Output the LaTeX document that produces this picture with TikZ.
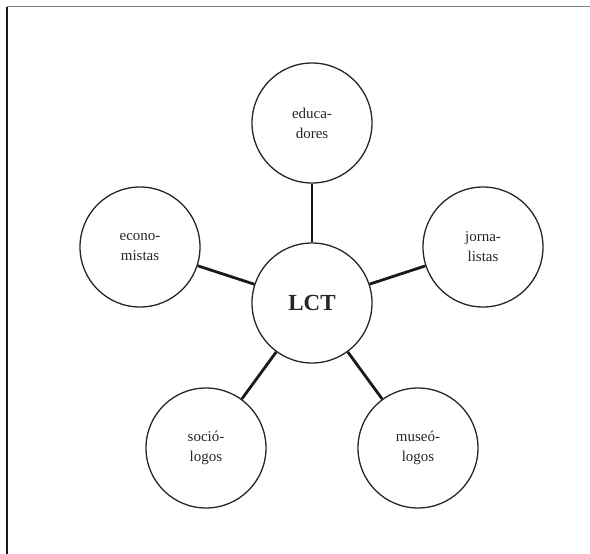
\documentclass[tikz,border=0pt]{standalone}
\usepackage{fontspec}
\setmainfont{Liberation Serif}
\begin{document}
\begin{tikzpicture}[x=1pt,y=-1pt,
  bubble/.style={circle,draw=black!85,line width=1.3pt,minimum size=120pt,inner sep=0pt,
    align=center,font=\fontsize{15}{20}\selectfont,text=black!85},
  link/.style={line width=2.8pt,black!90}]
\useasboundingbox (0,0) rectangle (590,554);
\draw[black!50,line width=1.6pt] (7,6.5) -- (590,6.5);
\draw[black!90,line width=1.1pt] (7,6.5) -- (7,554);
\node[bubble,font=\fontsize{23}{26}\selectfont\bfseries] (lct) at (312,303) {LCT};
\node[bubble] (edu) at (312,123) {educa-\\dores};
\node[bubble] (eco) at (140,247) {econo-\\mistas};
\node[bubble] (jor) at (483,247) {jorna-\\listas};
\node[bubble] (soc) at (206,448) {soció-\\logos};
\node[bubble] (mus) at (418,448) {museó-\\logos};
\draw[link] (lct) -- (edu);
\draw[link] (lct) -- (eco);
\draw[link] (lct) -- (jor);
\draw[link] (lct) -- (soc);
\draw[link] (lct) -- (mus);
\end{tikzpicture}
\end{document}
